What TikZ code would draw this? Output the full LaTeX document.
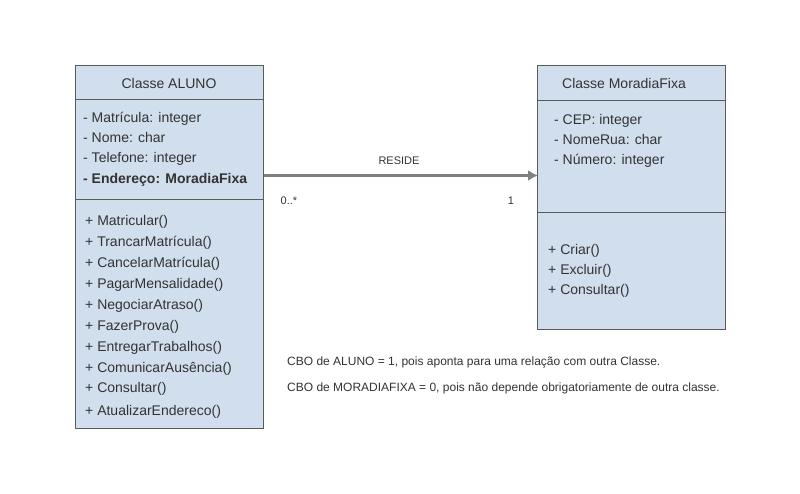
\documentclass[tikz,border=0pt]{standalone}
\usepackage{fontspec}
\setmainfont{Liberation Sans}
\usepackage{xcolor}
\usetikzlibrary{arrows.meta}
\definecolor{classfill}{RGB}{208,222,238}
\definecolor{classline}{RGB}{90,90,90}
\definecolor{txt}{RGB}{51,51,51}
\definecolor{relgray}{RGB}{128,128,128}

\begin{document}
\begin{tikzpicture}[x=1pt, y=-1pt,
    classbox/.style={draw=classline, fill=classfill, line width=1pt, anchor=north west, inner sep=0pt},
    member/.style={anchor=base west, inner sep=0pt, text=txt, font=\fontsize{14}{16}\selectfont},
    small/.style={inner sep=0pt, text=txt, font=\fontsize{11}{13}\selectfont},
    note/.style={anchor=base west, inner sep=0pt, text=txt, font=\fontsize{12}{14}\selectfont}]
    % Canvas
    \useasboundingbox (0,0) rectangle (800,493);

    % Define the class boxes
    \node[classbox, minimum width=188pt, minimum height=363pt] (aluno) at (75,65) {};
    \node[classbox, minimum width=188pt, minimum height=264pt] (moradia) at (537,65) {};

    % Compartment lines
    \draw[classline, line width=1pt] (75,99) -- (263,99);
    \draw[classline, line width=1pt] (75,199) -- (263,199);
    \draw[classline, line width=1pt] (537,100) -- (725,100);
    \draw[classline, line width=1pt] (537,212) -- (725,212);

    % Class ALUNO
    \node[member, anchor=base] (alunoname) at (169,88) {Classe ALUNO};
    \node[member] (a1) at (83,122) {- Matrícula: integer};
    \node[member] (a2) at (83,142) {- Nome: char};
    \node[member] (a3) at (83,162) {- Telefone: integer};
    \node[member] (a4) at (83,183) {\bfseries - Endereço: MoradiaFixa};

    \node[member] (m1) at (85,225) {+ Matricular()};
    \node[member] (m2) at (85,246) {+ TrancarMatrícula()};
    \node[member] (m3) at (85,267) {+ CancelarMatrícula()};
    \node[member] (m4) at (85,288) {+ PagarMensalidade()};
    \node[member] (m5) at (85,309) {+ NegociarAtraso()};
    \node[member] (m6) at (85,330) {+ FazerProva()};
    \node[member] (m7) at (85,351) {+ EntregarTrabalhos()};
    \node[member] (m8) at (85,372) {+ ComunicarAusência()};
    \node[member] (m9) at (85,392) {+ Consultar()};
    \node[member] (m10) at (85,415) {+ AtualizarEndereco()};

    % Class MoradiaFixa
    \node[member, anchor=base] (moradianame) at (624,88) {Classe MoradiaFixa};
    \node[member] (b1) at (554,124) {- CEP: integer};
    \node[member] (b2) at (554,144) {- NomeRua: char};
    \node[member] (b3) at (554,164) {- Número: integer};

    \node[member] (n1) at (548,254) {+ Criar()};
    \node[member] (n2) at (548,274) {+ Excluir()};
    \node[member] (n3) at (548,294) {+ Consultar()};

    % Draw the association
    \coordinate (relstart) at (aluno.east |- 0,175.5);
    \coordinate (relend) at (moradia.west |- 0,175.5);
    \draw[relgray, line width=3pt, -{Latex[length=10pt, width=11pt]}, shorten >=-1pt] (relstart) -- (relend);
    \node[small, anchor=base] (reside) at (399,164) {RESIDE};
    \node[small, anchor=base] (multa) at (289,204) {0..*};
    \node[small, anchor=base] (multb) at (511,204) {1};

    % Notes
    \node[note] (cbo1) at (287,365) {CBO de ALUNO = 1, pois aponta para uma relação com outra Classe.};
    \node[note] (cbo2) at (287,391) {CBO de MORADIAFIXA = 0, pois não depende obrigatoriamente de outra classe.};
\end{tikzpicture}
\end{document}
